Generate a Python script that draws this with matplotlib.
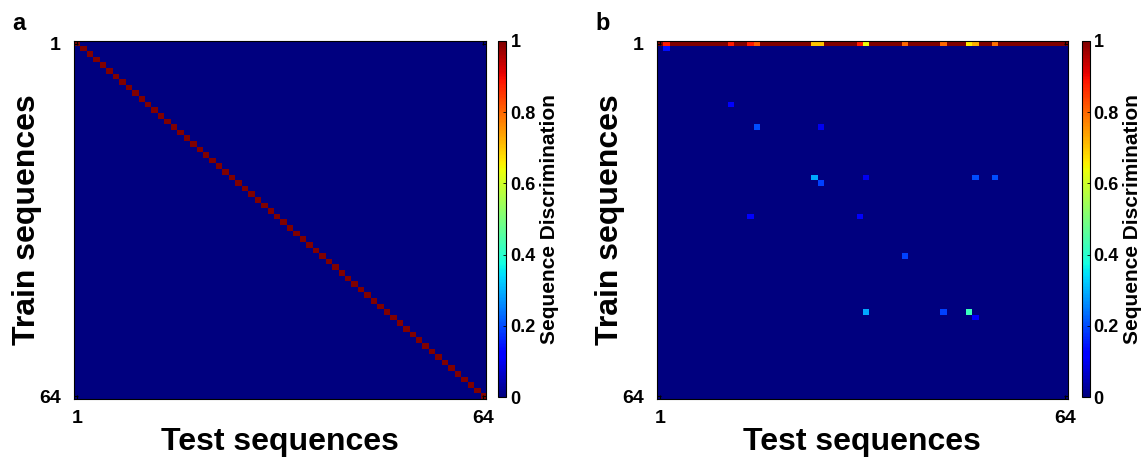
import numpy as np
import matplotlib
matplotlib.use("Agg")
import matplotlib.pyplot as plt

plt.rcParams['font.family'] = ['Liberation Sans', 'DejaVu Sans']

n_seq = 64

# panel b: first row (train sequence 1 vs every test sequence), 1-based columns that differ from 1.0
top_row_cols = [2, 12, 15, 16, 25, 26, 32, 33, 39, 45, 49, 50, 53]
top_row_vals = [0.88, 0.88, 0.88, 0.81, 0.70, 0.70, 0.88, 0.64, 0.80, 0.80, 0.66, 0.72, 0.79]

# panel b: scattered off-baseline cells (train row, test col, value), 1-based
spot_rows = [2, 12, 16, 16, 25, 26, 25, 25, 25, 32, 32, 39, 49, 49, 49, 50]
spot_cols = [2, 12, 16, 26, 25, 26, 33, 50, 53, 15, 32, 39, 33, 45, 49, 50]
spot_vals = [0.14, 0.11, 0.20, 0.10, 0.29, 0.19, 0.10, 0.20, 0.20, 0.12, 0.11, 0.19, 0.29, 0.19, 0.42, 0.11]

cbar_ticks = [0, 0.2, 0.4, 0.6, 0.8, 1]
cbar_labels = ['0', '0.2', '0.4', '0.6', '0.8', '1']

# build matrices
mat_a = np.eye(n_seq)

mat_b = np.zeros((n_seq, n_seq))
mat_b[0, :] = 1.0
for c, v in zip(top_row_cols, top_row_vals):
    mat_b[0, c - 1] = v
for r, c, v in zip(spot_rows, spot_cols, spot_vals):
    mat_b[r - 1, c - 1] = v

fig = plt.figure(figsize=(11.46, 4.58), dpi=100)

W, H = 1146.0, 458.0
ax_top, ax_bot = 41.0, 399.0
panels = [
    # (matrix, axes left px, axes right px, cbar left px, letter, letter x px)
    (mat_a, 73.5, 486.0, 498.3, 'a', 12),
    (mat_b, 656.5, 1068.0, 1081.5, 'b', 595),
]

for mat, left, right, cleft, letter, lx in panels:
    ax = fig.add_axes([left / W, 1 - ax_bot / H, (right - left) / W, (ax_bot - ax_top) / H])
    im = ax.imshow(mat, cmap='jet', vmin=0, vmax=1, aspect='auto',
                   interpolation='nearest',
                   extent=[0.5, n_seq + 0.5, n_seq + 0.5, 0.5])
    ax.set_xticks([1, n_seq])
    ax.set_yticks([1, n_seq])
    ax.set_xticklabels(['1', '64'], fontsize=14, fontweight='bold')
    ax.set_yticklabels(['1', '64'], fontsize=14, fontweight='bold')
    ax.tick_params(direction='in', length=3, width=0.8, top=True, right=True)
    ax.tick_params(axis='x', pad=8)
    ax.tick_params(axis='y', pad=9)
    ax.set_xlabel('Test sequences', fontsize=23, fontweight='bold', labelpad=0)
    ax.set_ylabel('Train sequences', fontsize=23, fontweight='bold', labelpad=-2)
    for s in ax.spines.values():
        s.set_linewidth(0.8)

    cax = fig.add_axes([cleft / W, 1 - 397.0 / H, 8.0 / W, (397.0 - 41.0) / H])
    cb = fig.colorbar(im, cax=cax, ticks=cbar_ticks)
    cb.ax.set_yticklabels(cbar_labels, fontsize=13, fontweight='bold')
    cb.ax.tick_params(direction='in', length=2, width=0.6, pad=3)
    cb.outline.set_linewidth(0.8)
    cb.set_label('Sequence Discrimination', fontsize=15, fontweight='bold', labelpad=3)

    fig.text(lx / W, 1 - 30.0 / H, letter, fontsize=17, fontweight='bold')

fig.savefig('out.png', dpi=100)
